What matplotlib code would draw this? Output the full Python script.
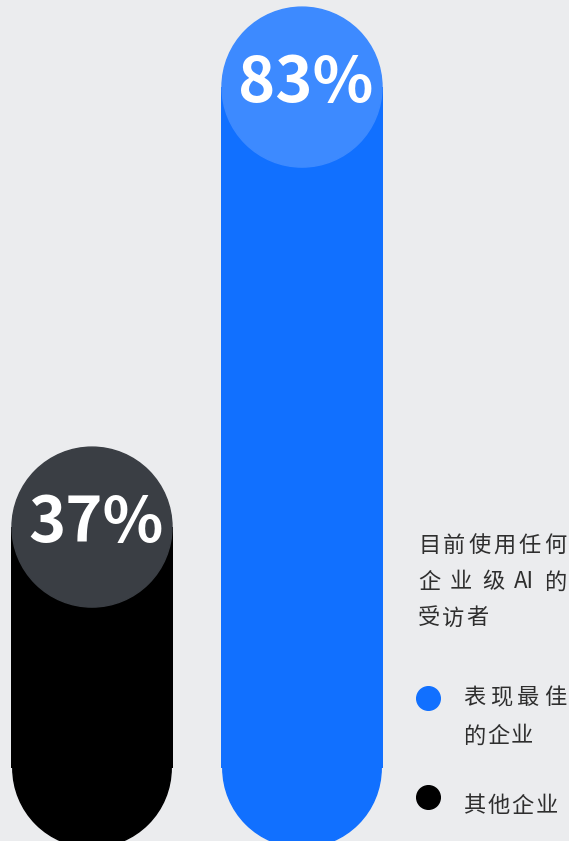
import matplotlib.pyplot as plt
from matplotlib.patches import Circle

plt.rcParams['font.family'] = ['Noto Sans CJK SC', 'DejaVu Sans']

# share of respondents currently using any enterprise-grade AI
groups = ['其他企业', '表现最佳的企业']
shares = [37, 83]
bar_colors = ['#000000', '#1170ff']
cap_colors = ['#3a3e44', '#3d8aff']

title_lines = [list('目前使用任何'), ['企', '业', '级', 'AI', '的'], list('受访者')]
legend_labels = [[list('表现最佳'), list('的企业')], [list('其他企业')]]
legend_colors = ['#1170ff', '#000000']

W, H = 569, 841
BG = '#ebecee'

fig = plt.figure(figsize=(W / 100, H / 100), dpi=100)
fig.patch.set_facecolor(BG)
ax = fig.add_axes([0, 0, 1, 1])
ax.set_facecolor(BG)

unit = 9.565          # pixels per percentage point
zero_px = 881         # pixel row of 0 %
ax.set_xlim(0, W / unit)
ax.set_ylim((zero_px - H) / unit, zero_px / unit)
ax.axis('off')

base = 11.8
xs = [92 / unit, 302 / unit]
width = 162 / unit
r = 80 / unit

for x, v, c, cc in zip(xs, shares, bar_colors, cap_colors):
    ax.bar(x, v - base, bottom=base, width=width, color=c, zorder=1)
    ax.add_patch(Circle((x, base), r * 0.99, color=c, zorder=1))
    ax.add_patch(Circle((x, v), r, color=cc, zorder=2))
    ax.text(x + 4 / unit, v - 15 / unit, f'{v}%', ha='center', va='baseline',
            color='white', fontsize=45.5, fontweight='bold', zorder=3)

renderer = fig.canvas.get_renderer()
txt = dict(transform=None, color='#2e2e2e', fontsize=16, va='center', ha='left')


def draw_line(tokens, x0, py, right=None, gap=1.8):
    # place tokens one by one; spread them out to `right` when given
    y = H - py
    items = [ax.text(0, y, t, **txt) for t in tokens]
    widths = [t.get_window_extent(renderer).width for t in items]
    if right is not None and len(items) > 1:
        gap = (right - x0 - sum(widths)) / (len(items) - 1)
    x = x0
    for t, w in zip(items, widths):
        t.set_x(x)
        x += w + gap


draw_line(title_lines[0], 418, 545, right=566)
draw_line(title_lines[1], 418, 582, right=566)
draw_line(title_lines[2], 418, 618)

marker_rows = [698, 797]
text_rows = [[698, 736], [806]]
for color, labels, my, rows in zip(legend_colors, legend_labels, marker_rows, text_rows):
    ax.plot([428 / W], [1 - my / H], 'o', ms=17, color=color, transform=ax.transAxes,
            clip_on=False)
    for i, (label, py) in enumerate(zip(labels, rows)):
        if i == 0 and len(labels) > 1:
            draw_line(label, 463, py, right=566)
        else:
            draw_line(label, 463, py)

fig.savefig('out.png', dpi=100, facecolor=BG)
